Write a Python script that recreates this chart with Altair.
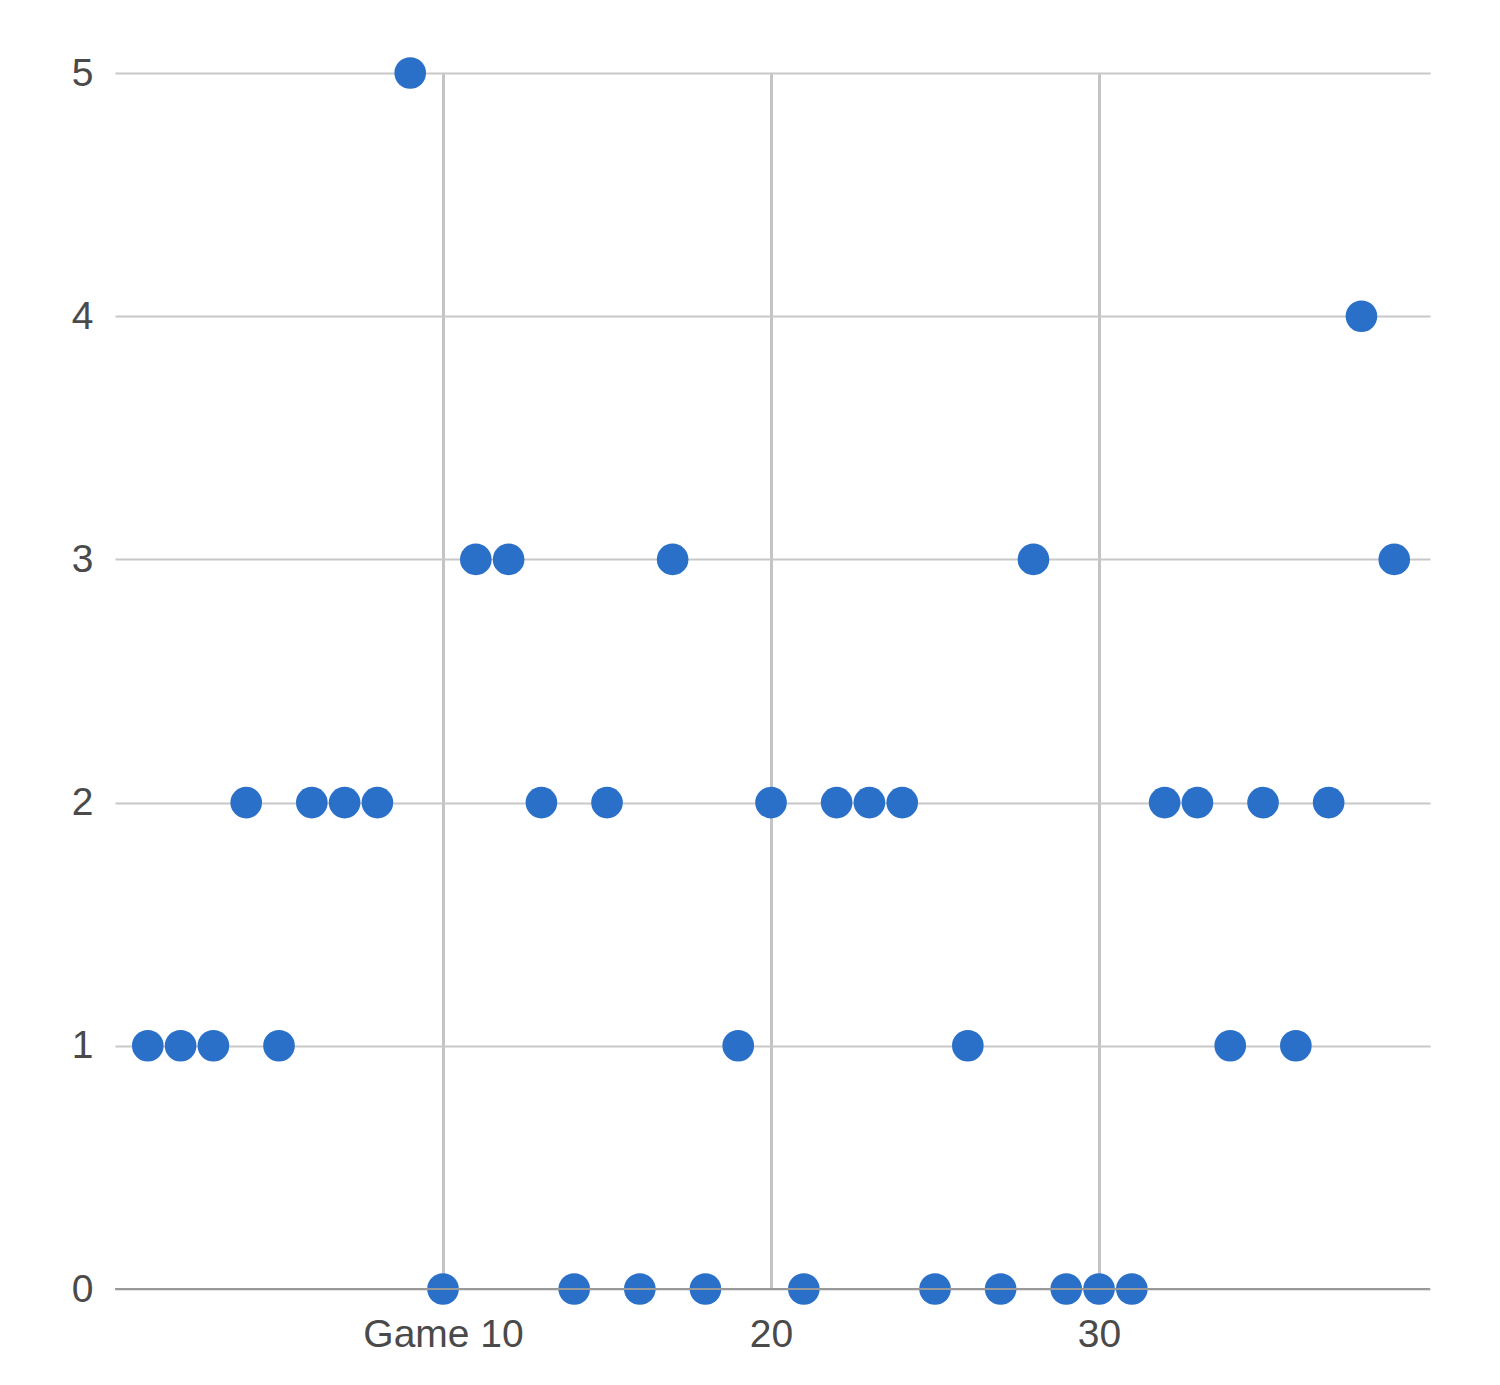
import altair as alt
import pandas as pd

games = list(range(1, 40))
goals = [1, 1, 1, 2, 1, 2, 2, 2, 5, 0,
         3, 3, 2, 0, 2, 0, 3, 0, 1, 2,
         0, 2, 2, 2, 0, 1, 0, 3, 0, 0,
         0, 2, 2, 1, 2, 1, 2, 4, 3]
x_ticks = [10, 20, 30]
y_ticks = [0, 1, 2, 3, 4, 5]

df = pd.DataFrame({"game": games, "goals": goals})

FONT = "Liberation Sans"

x_scale = alt.Scale(domain=[0, 40.09], nice=False, zero=False)
y_scale = alt.Scale(domain=[0, 5], nice=False)

points = alt.Chart(df).mark_circle(size=1000, opacity=1, color="#2a70c8").encode(
    x=alt.X("game:Q", scale=x_scale,
            axis=alt.Axis(values=x_ticks, title=None, grid=True, gridColor="#c4c4c4",
                          gridWidth=3, domain=False, ticks=False,
                          labelFontSize=39, labelColor="#4a4a4a", labelFont=FONT,
                          labelPadding=26,
                          labelExpr="datum.value == 10 ? 'Game 10' : datum.label")),
    y=alt.Y("goals:Q", scale=y_scale,
            axis=alt.Axis(values=y_ticks, title=None, grid=True, gridColor="#c8c8c8",
                          gridWidth=2, domain=False, ticks=False, format="d",
                          labelFontSize=39, labelColor="#4a4a4a", labelFont=FONT,
                          labelPadding=22)),
)

base = alt.Chart(pd.DataFrame({"y": [0]})).mark_rule(color="#999", strokeWidth=2).encode(
    y=alt.Y("y:Q", scale=y_scale)
)

chart = alt.layer(points, base).properties(
    width=1315, height=1216,
    autosize="none",
    padding={"left": 107, "top": 65, "right": 62, "bottom": 90},
).configure_view(stroke=None)

chart.save("out.html", embed_options={"renderer": "svg", "actions": False})
